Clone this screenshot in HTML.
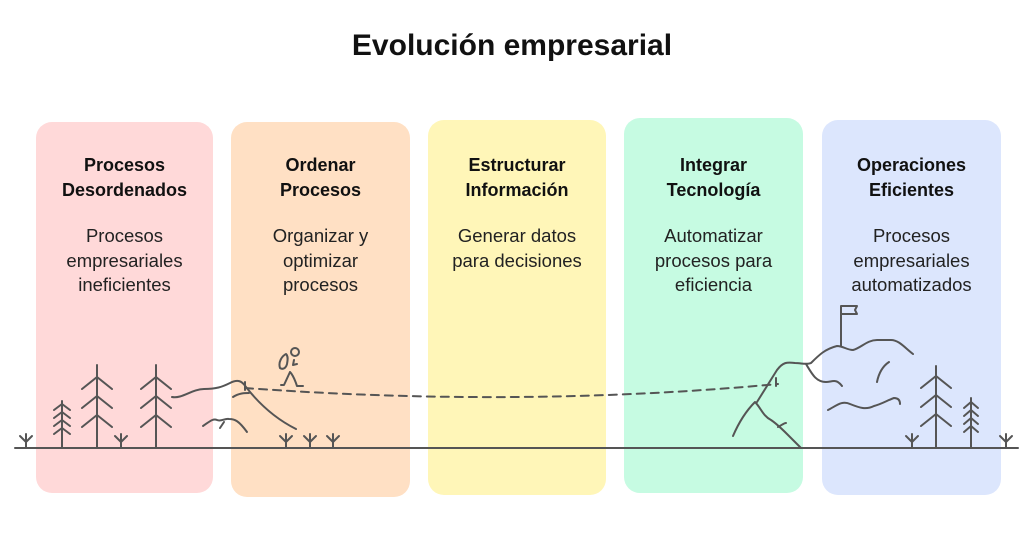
<!DOCTYPE html>
<html><head><meta charset="utf-8"><style>
body{margin:0;width:1024px;height:546px;background:#fff;position:relative;overflow:hidden;font-family:"Liberation Sans","DejaVu Sans",sans-serif;color:#111}
.t{position:absolute;top:29px;left:0;width:1024px;text-align:center;font-size:30px;font-weight:bold}
.b{position:absolute;border-radius:16px;text-align:center}
.h{position:absolute;top:31px;left:-10px;right:-10px;font-weight:bold;font-size:18px;line-height:25px}
.d{position:absolute;top:102px;left:-10px;right:-10px;font-size:18.5px;line-height:24.5px;color:#222}
svg{position:absolute;left:0;top:0}
</style></head><body>
<div class="t">Evolución empresarial</div>
<div class="b" style="left:36px;top:122px;width:177px;height:371px;background:#ffd9d9"><div class="h">Procesos<br>Desordenados</div><div class="d">Procesos<br>empresariales<br>ineficientes</div></div>
<div class="b" style="left:231px;top:122px;width:179px;height:375px;background:#ffe0c4"><div class="h">Ordenar<br>Procesos</div><div class="d">Organizar y<br>optimizar<br>procesos</div></div>
<div class="b" style="left:428px;top:120px;width:178px;height:375px;background:#fff6b8"><div class="h" style="top:33px">Estructurar<br>Información</div><div class="d" style="top:104px">Generar datos<br>para decisiones</div></div>
<div class="b" style="left:624px;top:118px;width:179px;height:375px;background:#c6fbe2"><div class="h" style="top:35px">Integrar<br>Tecnología</div><div class="d" style="top:106px">Automatizar<br>procesos para<br>eficiencia</div></div>
<div class="b" style="left:822px;top:120px;width:179px;height:375px;background:#dce6fd"><div class="h" style="top:33px">Operaciones<br>Eficientes</div><div class="d" style="top:104px">Procesos<br>empresariales<br>automatizados</div></div>
<svg width="1024" height="546" fill="none" stroke="#555" stroke-width="2" stroke-linecap="round" stroke-linejoin="round">
<line x1="15" y1="448" x2="1018" y2="448"/>
<path d="M26 448V434M20 436l6 6 6-6"/>
<path d="M121 448V434M115 436l6 6 6-6"/>
<path d="M286 448V434M280 436l6 6 6-6"/>
<path d="M310 448V434M304 436l6 6 6-6"/>
<path d="M333 448V434M327 436l6 6 6-6"/>
<path d="M912 448V434M906 436l6 6 6-6"/>
<path d="M1006 448V434M1000 436l6 6 6-6"/>
<path d="M62 448V401M54 410l8-6 8 6M54 418l8-6 8 6M54 426l8-6 8 6M54 434l8-6 8 6"/>
<path d="M971 448V398M964 408l7-6 7 6M964 416l7-6 7 6M964 424l7-6 7 6M964 432l7-6 7 6"/>
<path d="M97 448V365M82 389l15-12 15 12M82 408l15-12 15 12M82 427l15-12 15 12"/>
<path d="M156 448V365M141 389l15-12 15 12M141 408l15-12 15 12M141 427l15-12 15 12"/>
<path d="M936 448V366M921 388l15-12 15 12M921 407l15-12 15 12M921 426l15-12 15 12"/>
<path d="M172 397c10 2 20-8 32-8s18-2 26-6c8-4 12-2 16 4c14 18 30 32 50 42"/>
<path d="M233 397c6-4 12-4 16-4"/>
<path d="M203 426c6-4 10-8 14-6c4 2 8-2 12-1c6 0 10 2 18 13"/>
<path d="M220 428l4-6"/>
<path d="M245 382v8"/>
<path d="M245 388Q520 408 778 384" stroke-dasharray="8 6"/>
<path d="M776 378v8"/>
<circle cx="295" cy="352" r="4"/>
<path d="M294 360l-1 5 4-1M286 354c-4 2-8 8-6 14 3 2 6 0 7-4 1-5 1-8-1-10zM290 372c3 3 5 8 7 14h6M290 372l-6 13h-3"/>
<path d="M733 436c6-14 14-26 22-34c6 6 8 14 16 18c6 4 10 8 16 14l14 14"/>
<path d="M757 402l20-32c6-8 10-8 18-7c6 0 12 2 16 0c8-8 14-14 26-17c6 0 10 4 16 4c8-2 14-10 24-10h14c8 0 14 8 22 14"/>
<path d="M806 364c6 10 10 18 20 18c6 0 10-4 16 4"/>
<path d="M828 410c8-4 14-10 22-6c10 4 16 6 24 2c8-2 14-6 20-8c4 0 6 2 6 6"/>
<path d="M889 362c-6 4-10 10-12 20"/>
<path d="M778 427c4-2 6-4 8-4"/>
<path d="M841 346V306h16l-2 4 2 4h-16"/>
</svg>
</body></html>
